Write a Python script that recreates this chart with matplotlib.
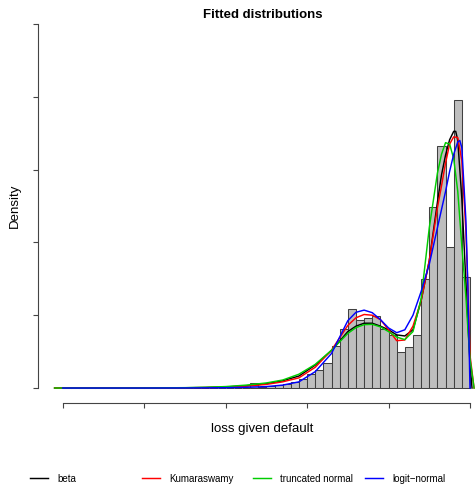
#!/usr/bin/env python3
"""Histogram of loss given default with four fitted densities."""

import matplotlib

matplotlib.use("Agg")
import matplotlib.pyplot as plt
from matplotlib.lines import Line2D
import numpy as np

plt.rcParams["font.family"] = ["Liberation Sans", "DejaVu Sans"]

# histogram: 50 bins of width 0.02 on [0, 1], density per bin
bin_edges = np.linspace(0.0, 1.0, 51)
hist_density = [0.0] * 23 + [
    0.13, 0.02, 0.05, 0.08, 0.10, 0.17, 0.26, 0.38, 0.50, 0.70,
    1.16, 1.61, 2.18, 1.88, 1.93, 1.97, 1.63, 1.45, 1.00, 1.14,
    1.47, 3.00, 4.96, 6.64, 3.87, 7.90, 3.05,
]

# fitted densities
x_beta = [-0.02, 0.1, 0.2, 0.3, 0.35, 0.4, 0.45, 0.5, 0.54, 0.58, 0.62, 0.66,
          0.70, 0.72, 0.74, 0.76, 0.78, 0.80, 0.82, 0.84, 0.86, 0.88, 0.90,
          0.92, 0.93, 0.94, 0.95, 0.96, 0.965, 0.97, 0.98, 0.99, 1.0, 1.005]
y_beta = [0.0, 0.0, 0.001, 0.008, 0.015, 0.03, 0.06, 0.12, 0.2, 0.33, 0.63, 1.03,
          1.55, 1.7, 1.78, 1.78, 1.7, 1.6, 1.46, 1.43, 1.6, 2.4, 3.5,
          5.1, 5.85, 6.4, 6.82, 7.05, 7.05, 6.8, 5.2, 2.9, 0.68, 0.0]

x_kuma = [-0.02, 0.1, 0.2, 0.3, 0.35, 0.4, 0.45, 0.5, 0.54, 0.58, 0.62, 0.66,
          0.70, 0.72, 0.74, 0.76, 0.78, 0.80, 0.82, 0.84, 0.86, 0.88, 0.90,
          0.92, 0.93, 0.94, 0.95, 0.96, 0.97, 0.98, 0.99, 0.995, 1.0, 1.01]
y_kuma = [0.0, 0.0, 0.001, 0.006, 0.012, 0.025, 0.05, 0.1, 0.17, 0.28, 0.57, 1.04,
          1.72, 1.93, 2.02, 2.0, 1.88, 1.6, 1.3, 1.32, 1.7, 2.4, 3.5,
          4.95, 5.55, 6.18, 6.7, 6.9, 6.88, 6.25, 4.3, 2.7, 0.9, 0.0]

x_tnorm = [-0.02, 0.1, 0.2, 0.3, 0.35, 0.4, 0.45, 0.5, 0.54, 0.58, 0.62, 0.66,
           0.70, 0.72, 0.74, 0.76, 0.78, 0.80, 0.82, 0.84, 0.86, 0.88, 0.90,
           0.92, 0.93, 0.94, 0.95, 0.96, 0.97, 0.98, 0.99, 0.995, 1.0, 1.01]
y_tnorm = [0.0, 0.0, 0.002, 0.01, 0.02, 0.04, 0.08, 0.14, 0.22, 0.38, 0.65, 1.04,
           1.5, 1.66, 1.74, 1.75, 1.68, 1.55, 1.4, 1.33, 1.55, 2.45, 4.4,
           5.9, 6.42, 6.74, 6.7, 6.3, 5.4, 3.9, 2.5, 1.6, 0.8, 0.0]

x_logit = [0.0, 0.1, 0.2, 0.3, 0.35, 0.4, 0.45, 0.5, 0.54, 0.58, 0.62, 0.66,
           0.70, 0.72, 0.74, 0.76, 0.78, 0.80, 0.82, 0.84, 0.86, 0.88, 0.90,
           0.92, 0.93, 0.94, 0.95, 0.96, 0.97, 0.975, 0.98, 0.99, 0.995, 1.0]
y_logit = [0.0, 0.0, 0.0, 0.002, 0.005, 0.01, 0.02, 0.04, 0.08, 0.17, 0.45, 0.95,
           1.85, 2.08, 2.14, 2.07, 1.88, 1.65, 1.52, 1.6, 2.0, 2.65, 3.4,
           4.4, 4.9, 5.4, 5.95, 6.42, 6.76, 6.8, 6.6, 4.6, 2.7, 0.0]

series = [
    ("beta", x_beta, y_beta, "black"),
    ("Kumaraswamy", x_kuma, y_kuma, "#FF0000"),
    ("truncated normal", x_tnorm, y_tnorm, "#00CD00"),
    ("logit\u2212normal", x_logit, y_logit, "#0000FF"),
]

W, H = 475, 486
fig = plt.figure(figsize=(W / 100, H / 100), dpi=100)
left, right, top, bottom = 38, 486.6, 9.4, 402.6
ax = fig.add_axes([left / W, 1 - bottom / H, (right - left) / W, (bottom - top) / H])

ax.bar(bin_edges[:-1], hist_density, width=0.02, align="edge",
       color="#BEBEBE", edgecolor="#404040", linewidth=0.75, zorder=1)

for name, xs, ys, col in series:
    ax.plot(xs, ys, color=col, linewidth=1.05, label=name, zorder=2)

ax.set_xlim(-0.0608, 1.0408)
ax.set_ylim(-0.4, 10.4)
ax.set_xticks(np.arange(0, 1.01, 0.2))
ax.set_yticks(np.arange(0, 11, 2))
ax.set_xticklabels([])
ax.set_yticklabels([])
for side in ("top", "right"):
    ax.spines[side].set_visible(False)
ax.spines["left"].set_bounds(0, 10)
ax.spines["bottom"].set_bounds(0, 1)
for side in ("left", "bottom"):
    ax.spines[side].set_color("#444444")
    ax.spines[side].set_linewidth(0.8)
ax.tick_params(length=3.5, width=0.8, color="#444444")

fig.text((left + right) / 2 / W, 1 - 18.3 / H, "Fitted distributions",
         ha="center", va="baseline", fontsize=9.5, fontweight="bold")
fig.text((left + right) / 2 / W, 1 - 431.5 / H, "loss given default",
         ha="center", va="baseline", fontsize=9.5)
fig.text(14.5 / W, 1 - 206 / H, "Density", rotation=90,
         ha="center", va="center", fontsize=9.5)

# legend entries spaced evenly along the bottom, one per fit
legend_x = [30, 142, 253, 365]
for (name, _, _, col), lx in zip(series, legend_x):
    handle = Line2D([], [], color=col, linewidth=1.05)
    fig.legend([handle], [name], loc="center left",
               bbox_to_anchor=(lx / W, 1 - 478.5 / H), frameon=False,
               fontsize=7, handlelength=1.86, handletextpad=0.93,
               borderpad=0, borderaxespad=0)

fig.savefig("out.png", dpi=100)
